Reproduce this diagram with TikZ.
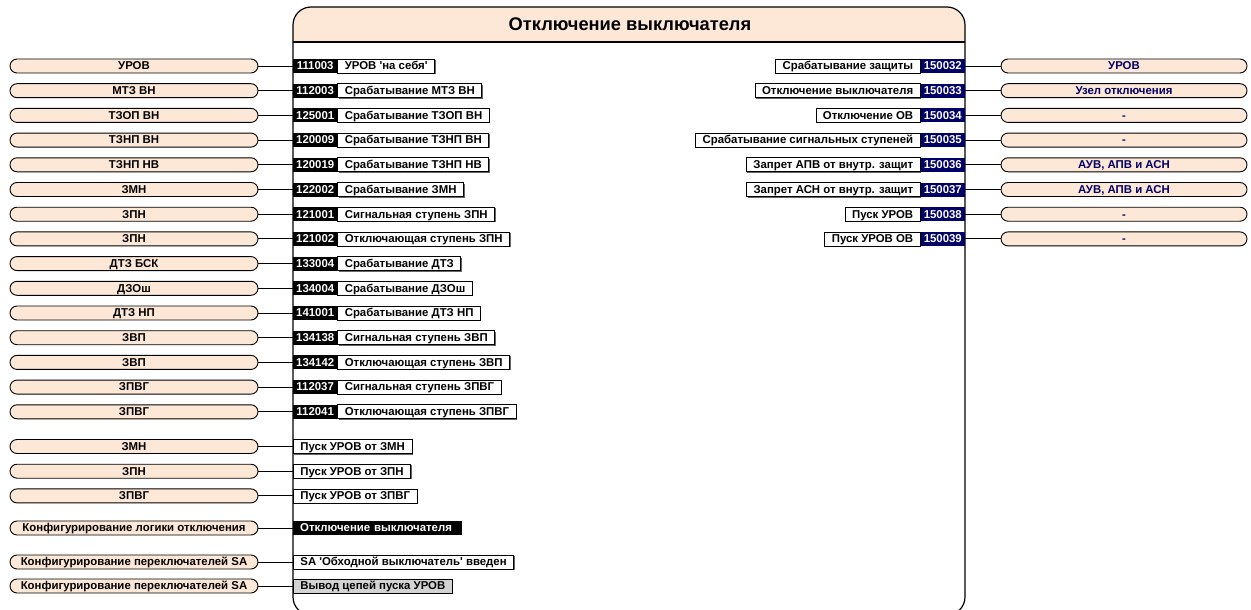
\documentclass[tikz,border=0pt]{standalone}
\usepackage{fontspec}
\setmainfont{Liberation Sans}
\usetikzlibrary{shadows}
\definecolor{peach}{RGB}{253,232,216}
\definecolor{navy}{RGB}{0,0,102}
\definecolor{boxgray}{RGB}{211,211,211}
\tikzset{
  every node/.style={font=\fontsize{11.4}{13}\selectfont\bfseries, inner sep=0pt,
    text height=8.2pt, text depth=0.6pt},
  pill/.style={draw, line width=0.9pt, fill=peach, rounded corners=7pt,
    minimum width=248pt, minimum height=14pt},
  rpill/.style={pill, minimum width=246pt, text=navy},
  numbox/.style={fill=black, text=white, minimum width=44pt, minimum height=14pt},
  rnumbox/.style={numbox, fill=navy},
  labbox/.style={draw, fill=white, line width=0.8pt, minimum height=14pt, inner xsep=7pt,
    drop shadow={shadow xshift=1pt, shadow yshift=-1pt, fill=black, opacity=0.6}},
  wire/.style={line width=0.9pt}
}
\begin{document}
\begin{tikzpicture}[x=1pt,y=-1pt]
\useasboundingbox (0,0) rectangle (1251,610);

% main block with its title band
\fill[peach] (293,42) [rounded corners=18pt] -- (293,7) -- (965,7) [sharp corners] -- (965,42) -- cycle;
\draw[line width=1.2pt, rounded corners=18pt] (293,7) rectangle (965,615);
\draw[line width=2pt] (293,42) -- (965,42);
\node[font=\fontsize{18.3}{20}\selectfont\bfseries, text height=13pt] (title) at (630,24) {Отключение выключателя};

% inputs with numbers
\foreach \p/\n/\l [count=\i from 0] in {
  УРОВ/111003/{УРОВ \textquotesingle на себя\textquotesingle},
  МТЗ ВН/112003/Срабатывание МТЗ ВН,
  ТЗОП ВН/125001/Срабатывание ТЗОП ВН,
  ТЗНП ВН/120009/Срабатывание ТЗНП ВН,
  ТЗНП НВ/120019/Срабатывание ТЗНП НВ,
  ЗМН/122002/Срабатывание ЗМН,
  ЗПН/121001/Сигнальная ступень ЗПН,
  ЗПН/121002/Отключающая ступень ЗПН,
  ДТЗ БСК/133004/Срабатывание ДТЗ,
  ДЗОш/134004/Срабатывание ДЗОш,
  ДТЗ НП/141001/Срабатывание ДТЗ НП,
  ЗВП/134138/Сигнальная ступень ЗВП,
  ЗВП/134142/Отключающая ступень ЗВП,
  ЗПВГ/112037/Сигнальная ступень ЗПВГ,
  ЗПВГ/112041/Отключающая ступень ЗПВГ}
{
  \pgfmathsetmacro\yy{66+24.7*\i}
  \node[pill] (lp\i) at (134,\yy) {\p};
  \node[numbox, anchor=west] (ln\i) at (293,\yy) {\n};
  \node[labbox, anchor=west] (ll\i) at (ln\i.east) {\l};
  \draw[wire] (lp\i.east) -- (ln\i.west);
}

% inputs without numbers
\foreach \p/\l/\yy [count=\i from 15] in {
  ЗМН/Пуск УРОВ от ЗМН/446.5,
  ЗПН/Пуск УРОВ от ЗПН/471.2,
  ЗПВГ/Пуск УРОВ от ЗПВГ/495.9}
{
  \node[pill] (lp\i) at (134,\yy) {\p};
  \node[labbox, anchor=west] (ll\i) at (293,\yy) {\l};
  \draw[wire] (lp\i.east) -- (ll\i.west);
}

\node[pill] (lp18) at (134,528) {Конфигурирование логики отключения};
\node[fill=black, text=white, anchor=west, minimum height=14pt,
  align=left, text width=155pt, inner xsep=7pt] (ll18) at (293,528) {Отключение выключателя};
\draw[wire] (lp18.east) -- (ll18.west);

\node[pill] (lp19) at (134,562) {Конфигурирование переключателей SA};
\node[labbox, anchor=west] (ll19) at (293,562)
  {SA \textquotesingle Обходной выключатель\textquotesingle{} введен};
\draw[wire] (lp19.east) -- (ll19.west);

\node[pill] (lp20) at (134,586) {Конфигурирование переключателей SA};
\node[labbox, fill=boxgray, anchor=west] (ll20) at (293,586) {Вывод цепей пуска УРОВ};
\draw[wire] (lp20.east) -- (ll20.west);

% outputs
\foreach \l/\n/\p [count=\i from 0] in {
  Срабатывание защиты/150032/УРОВ,
  Отключение выключателя/150033/Узел отключения,
  Отключение ОВ/150034/-,
  Срабатывание сигнальных ступеней/150035/-,
  Запрет АПВ от внутр. защит/150036/{АУВ, АПВ и АСН},
  Запрет АСН от внутр. защит/150037/{АУВ, АПВ и АСН},
  Пуск УРОВ/150038/-,
  Пуск УРОВ ОВ/150039/-}
{
  \pgfmathsetmacro\yy{66+24.7*\i}
  \node[rnumbox, anchor=east] (rn\i) at (965,\yy) {\n};
  \node[labbox, anchor=east] (rl\i) at (rn\i.west) {\l};
  \node[rpill] (rp\i) at (1124,\yy) {\p};
  \draw[wire] (rn\i.east) -- (rp\i.west);
}
\end{tikzpicture}
\end{document}
